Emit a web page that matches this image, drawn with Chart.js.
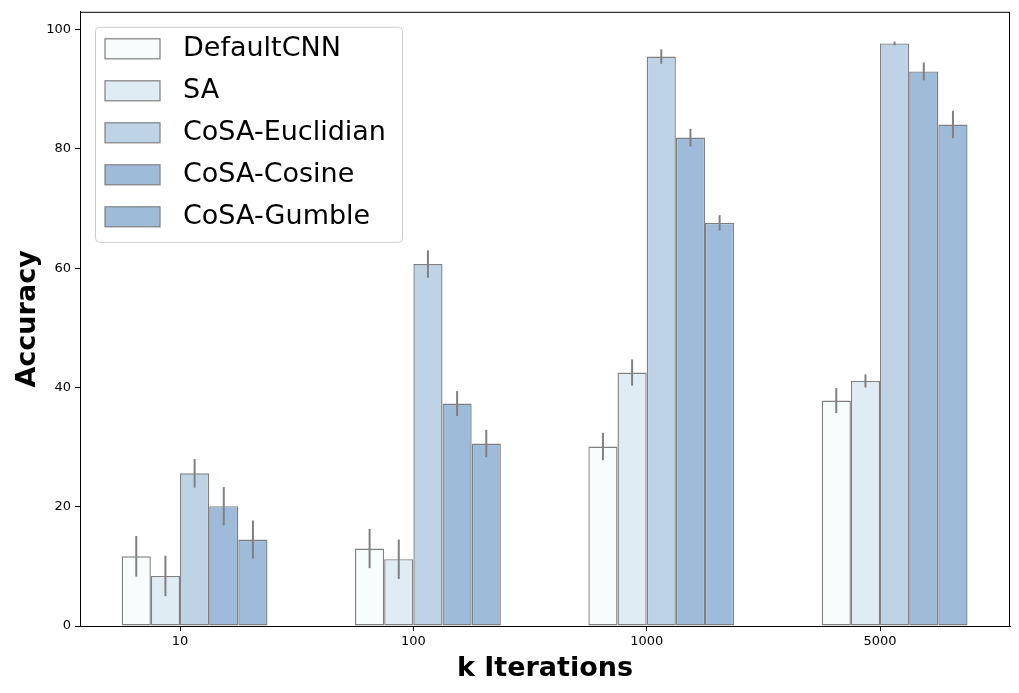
<!DOCTYPE html>
<html>
<head>
<meta charset="utf-8">
<script src="https://cdn.jsdelivr.net/npm/chart.js@4"></script>
<style>
  body { margin: 0; background: #fff; }
  #wrap { width: 1019px; height: 693px; }
</style>
</head>
<body>
<div id="wrap"><canvas id="myBarChart" width="1019" height="693"></canvas></div>
<script>
// Accuracy per iteration count
var iterLabels = ["10", "100", "1000", "5000"];

var defaultCnnValues = [11.7, 13.0, 30.1, 37.8];
var saValues = [8.4, 11.2, 42.5, 41.1];
var euclidValues = [25.6, 60.7, 95.5, 97.7];
var cosineValues = [20.1, 37.3, 81.9, 93.0];
var gumbleValues = [14.5, 30.6, 67.6, 84.1];

var defaultCnnErr = [3.4, 3.3, 2.3, 2.1];
var saErr = [3.4, 3.3, 2.2, 1.1];
var euclidErr = [2.4, 2.3, 1.2, 0.3];
var cosineErr = [3.2, 2.1, 1.5, 1.5];
var gumbleErr = [3.2, 2.3, 1.3, 2.3];

var seriesNames = ["DefaultCNN", "SA", "CoSA-Euclidian", "CoSA-Cosine", "CoSA-Gumble"];
var seriesColors = ["#f7fcfd", "#e0ecf4", "#bfd3e6", "#9ebcda", "#9ebcda"];

function points(vals) {
    return vals.map(function (v, i) { return { x: i, y: v }; });
}

var seriesValues = [defaultCnnValues, saValues, euclidValues, cosineValues, gumbleValues];
var seriesErrors = [defaultCnnErr, saErr, euclidErr, cosineErr, gumbleErr];

// empty slot first so the ticks sit at the left edge of the middle bar (like matplotlib)
var datasets = [{
    label: "",
    spacer: true,
    data: iterLabels.map(function (l, i) { return { x: i, y: null }; })
}];
seriesNames.forEach(function (name, k) {
    datasets.push({
        label: name,
        data: points(seriesValues[k]),
        errors: seriesErrors[k],
        backgroundColor: seriesColors[k],
        borderColor: "#808080",
        borderWidth: 1.4,
        borderSkipped: false
    });
});

var errorBars = {
    id: "errorBars",
    afterDatasetsDraw: function (chart) {
        var ctx = chart.ctx, y = chart.scales.y;
        chart.data.datasets.forEach(function (ds, i) {
            if (!ds.errors) return;
            var meta = chart.getDatasetMeta(i);
            meta.data.forEach(function (bar, j) {
                var v = ds.data[j].y, e = ds.errors[j];
                ctx.save();
                ctx.strokeStyle = "#808080";
                ctx.lineWidth = 2;
                ctx.beginPath();
                ctx.moveTo(bar.x, y.getPixelForValue(v - e));
                ctx.lineTo(bar.x, y.getPixelForValue(v + e));
                ctx.stroke();
                ctx.restore();
            });
        });
    }
};

var frameAndLegend = {
    id: "frameAndLegend",
    afterDraw: function (chart) {
        var ctx = chart.ctx, a = chart.chartArea;
        ctx.save();
        ctx.strokeStyle = "#000";
        ctx.lineWidth = 1;
        ctx.strokeRect(a.left + 0.5, a.top + 0.5, a.right - a.left - 1, a.bottom - a.top);

        // legend box, upper left inside the plot
        var bx = a.left + 15, by = a.top + 15, bw = 307, bh = 215;
        ctx.fillStyle = "rgba(255,255,255,0.8)";
        ctx.strokeStyle = "#cccccc";
        ctx.beginPath();
        ctx.roundRect(bx + 0.5, by + 0.5, bw, bh, 4);
        ctx.fill();
        ctx.stroke();

        ctx.font = "27px 'DejaVu Sans'";
        ctx.textBaseline = "middle";
        var row = 0;
        chart.data.datasets.forEach(function (ds) {
            if (ds.spacer) return;
            var cy = by + 22 + row * 42;
            ctx.fillStyle = ds.backgroundColor;
            ctx.fillRect(bx + 10, cy - 10, 55, 20);
            ctx.strokeStyle = "#808080";
            ctx.lineWidth = 1.2;
            ctx.strokeRect(bx + 10, cy - 10, 55, 20);
            ctx.fillStyle = "#000";
            ctx.fillText(ds.label, bx + 88, cy);
            row++;
        });
        ctx.restore();
    }
};

new Chart("myBarChart", {
    type: "bar",
    data: { datasets: datasets },
    plugins: [errorBars, frameAndLegend],
    options: {
        responsive: false,
        animation: false,
        devicePixelRatio: 1,
        categoryPercentage: 0.75,
        barPercentage: 1,
        layout: { padding: { left: 0, right: 9, top: 8, bottom: 0 } },
        plugins: {
            legend: { display: false },
            tooltip: { enabled: false }
        },
        scales: {
            x: {
                type: "linear",
                min: -0.4286,
                max: 3.557,
                offset: false,
                afterFit: function (s) { s.height = 67; },
                grid: { offset: false, drawOnChartArea: false, color: "#000", tickLength: 5 },
                border: { color: "#000" },
                ticks: {
                    stepSize: 1,
                    includeBounds: false,
                    color: "#000",
                    padding: 3,
                    font: { family: "DejaVu Sans", size: 13 },
                    callback: function (v) { return Number.isInteger(v) ? iterLabels[v] : ""; }
                },
                title: {
                    display: true,
                    text: "k Iterations",
                    color: "#000",
                    padding: { top: 0, bottom: 8 },
                    font: { family: "DejaVu Sans", size: 27, weight: "bold" }
                }
            },
            y: {
                min: 0,
                max: 103,
                afterFit: function (s) { s.width = 80; },
                grid: { drawOnChartArea: false, color: "#000", tickLength: 5 },
                border: { color: "#000" },
                ticks: {
                    stepSize: 20,
                    includeBounds: false,
                    color: "#000",
                    padding: 4,
                    font: { family: "DejaVu Sans", size: 13 }
                },
                title: {
                    display: true,
                    text: "Accuracy",
                    color: "#000",
                    padding: { top: 12, bottom: 0 },
                    font: { family: "DejaVu Sans", size: 27, weight: "bold" }
                }
            }
        }
    }
});
</script>
</body>
</html>
